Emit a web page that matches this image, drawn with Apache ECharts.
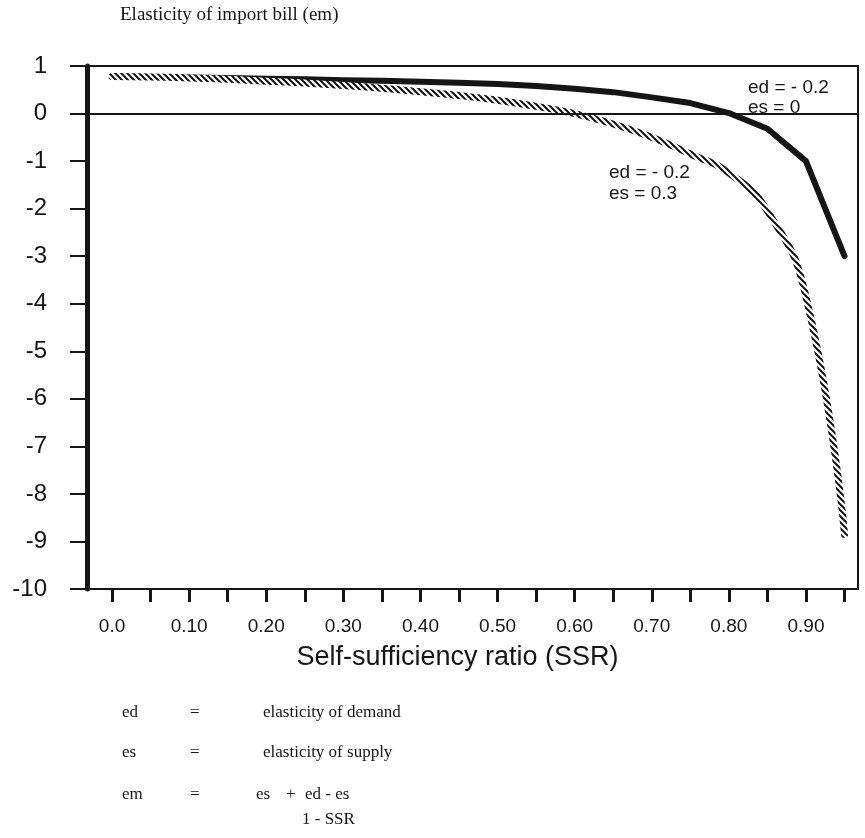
<!DOCTYPE html>
<html>
<head>
<meta charset="utf-8">
<script src="https://cdn.jsdelivr.net/npm/echarts@6/dist/echarts.min.js"></script>
<style>
html,body{margin:0;padding:0;background:#fff;}
#chart{width:865px;height:838px;}
</style>
</head>
<body>
<div id="chart"></div>
<script>
// ---- data ----
const ssr = [0.00,0.05,0.10,0.15,0.20,0.25,0.30,0.35,0.40,0.45,0.50,0.55,0.60,0.65,0.70,0.75,0.80,0.85,0.90,0.95];
const emEs0  = [0.78,0.77,0.76,0.75,0.73,0.72,0.70,0.69,0.67,0.65,0.62,0.58,0.52,0.45,0.34,0.22,0.01,-0.32,-1.00,-3.00];
const emEs03 = [0.78,0.77,0.75,0.72,0.68,0.64,0.59,0.53,0.46,0.38,0.28,0.15,0.00,-0.22,-0.50,-0.85,-1.25,-2.05,-3.85,-8.85];
const xTickValues  = [0.00,0.05,0.10,0.15,0.20,0.25,0.30,0.35,0.40,0.45,0.50,0.55,0.60,0.65,0.70,0.75,0.80,0.85,0.90,0.95];
const xLabelValues = [0.00,0.10,0.20,0.30,0.40,0.50,0.60,0.70,0.80,0.90];
const seriesNames = ['ed = - 0.2, es = 0', 'ed = - 0.2, es = 0.3'];

function makeHatch() {
  const c = document.createElement('canvas');
  c.width = 6; c.height = 6;
  const g = c.getContext('2d');
  g.fillStyle = '#ffffff';
  g.fillRect(0, 0, 6, 6);
  g.strokeStyle = '#111111';
  g.lineWidth = 2;
  for (let k = -6; k <= 6; k += 6) {
    g.beginPath();
    g.moveTo(-1, k - 1);
    g.lineTo(7, k + 7);
    g.stroke();
  }
  return c;
}

const chart = echarts.init(document.getElementById('chart'), null, {renderer: 'canvas'});
const ink = '#151515';
const serif = '"Liberation Serif"';
const option = {
  animation: false,
  backgroundColor: '#ffffff',
  grid: {left: 87, right: 7, top: 66, bottom: 249, show: true, borderColor: ink, borderWidth: 2, backgroundColor: 'transparent'},
  xAxis: {
    type: 'value', min: -0.0325, max: 0.9675,
    name: 'Self-sufficiency ratio (SSR)', nameLocation: 'middle', nameGap: 55,
    nameTextStyle: {fontFamily: 'Liberation Sans', fontSize: 27, color: ink, padding: [0, 30, 0, 0]},
    axisLine: {show: true, onZero: false, lineStyle: {color: ink, width: 2}},
    axisTick: {show: true, inside: false, length: 13, lineStyle: {color: ink, width: 3}, customValues: xTickValues},
    axisLabel: {show: true, margin: 28, fontFamily: 'Liberation Sans', fontSize: 19, color: ink,
      customValues: xLabelValues,
      formatter: v => (Math.abs(v) < 1e-9 ? '0.0' : v.toFixed(2))},
    splitLine: {show: false}
  },
  yAxis: {
    type: 'value', min: -10, max: 1, interval: 1,
    axisLine: {show: true, onZero: false, lineStyle: {color: ink, width: 5}},
    axisTick: {show: true, inside: false, length: 17, lineStyle: {color: ink, width: 2}},
    axisLabel: {show: true, margin: 40, fontFamily: 'Liberation Sans', fontSize: 24, color: ink},
    splitLine: {show: false}
  },
  series: [
    {
      name: seriesNames[0], type: 'line', z: 3,
      data: ssr.map((x, i) => [x, emEs0[i]]),
      showSymbol: false, symbol: 'none', smooth: false,
      lineStyle: {color: ink, width: 6, cap: 'round', join: 'round'},
      markLine: {
        silent: true, symbol: 'none', label: {show: false},
        lineStyle: {color: ink, width: 2, type: 'solid'},
        data: [{yAxis: 0}]
      }
    },
    {
      name: seriesNames[1], type: 'line', z: 4,
      data: ssr.map((x, i) => [x, emEs03[i]]),
      showSymbol: false, symbol: 'none', smooth: true,
      lineStyle: {color: {image: makeHatch(), repeat: 'repeat'}, width: 7, cap: 'round', join: 'round'}
    }
  ],
  graphic: [
    {type: 'text', left: 120, top: 6, style: {text: 'Elasticity of import bill (em)', font: '19px ' + serif, fill: ink}},
    {type: 'text', left: 748, top: 78, style: {text: 'ed = - 0.2\nes = 0', font: '19px "Liberation Sans"', fill: ink, lineHeight: 20}},
    {type: 'text', left: 609, top: 162, style: {text: 'ed = - 0.2\nes = 0.3', font: '19px "Liberation Sans"', fill: ink, lineHeight: 21}},
    {type: 'text', left: 122, top: 704, style: {text: 'ed', font: '17px ' + serif, fill: ink}},
    {type: 'text', left: 190, top: 704, style: {text: '=', font: '17px ' + serif, fill: ink}},
    {type: 'text', left: 263, top: 704, style: {text: 'elasticity of demand', font: '17px ' + serif, fill: ink}},
    {type: 'text', left: 122, top: 744, style: {text: 'es', font: '17px ' + serif, fill: ink}},
    {type: 'text', left: 190, top: 744, style: {text: '=', font: '17px ' + serif, fill: ink}},
    {type: 'text', left: 263, top: 744, style: {text: 'elasticity of supply', font: '17px ' + serif, fill: ink}},
    {type: 'text', left: 122, top: 786, style: {text: 'em', font: '17px ' + serif, fill: ink}},
    {type: 'text', left: 190, top: 786, style: {text: '=', font: '17px ' + serif, fill: ink}},
    {type: 'text', left: 256, top: 786, style: {text: 'es', font: '17px ' + serif, fill: ink}},
    {type: 'text', left: 286, top: 786, style: {text: '+', font: '17px ' + serif, fill: ink}},
    {type: 'text', left: 305, top: 786, style: {text: 'ed - es', font: '17px ' + serif, fill: ink}},
    {type: 'text', left: 302, top: 811, style: {text: '1 - SSR', font: '17px ' + serif, fill: ink}}
  ]
};
chart.setOption(option);
</script>
</body>
</html>
